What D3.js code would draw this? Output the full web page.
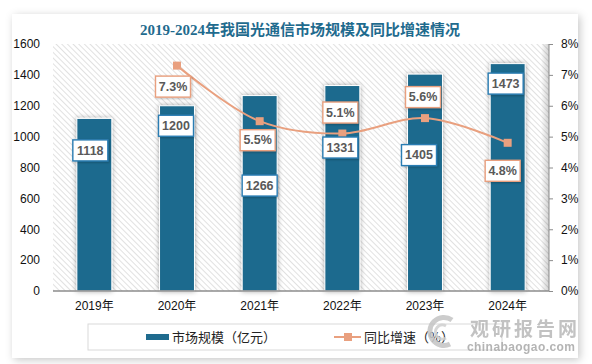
<!DOCTYPE html>
<html><head><meta charset="utf-8">
<script src="https://cdn.jsdelivr.net/npm/d3@7"></script>
<style>
html,body{margin:0;padding:0;background:#ffffff;}
svg{display:block;}
</style></head>
<body>
<svg id="chart" width="592" height="364"></svg>
<script>
// ---- data ----
const years = ["2019年","2020年","2021年","2022年","2023年","2024年"];
const marketSize = [1118, 1200, 1266, 1331, 1405, 1473];          // 亿元
const growthRate = [null, 7.3, 5.5, 5.1, 5.6, 4.8];                 // %
const leftTicks = [0, 200, 400, 600, 800, 1000, 1200, 1400, 1600];
const rightTicks = [0, 1, 2, 3, 4, 5, 6, 7, 8];
const titleText = "2019-2024年我国光通信市场规模及同比增速情况";
const legendBar = "市场规模（亿元）";
const legendLine = "同比增速（%）";

// ---- layout (label placement, px) ----
const barLabelDx = [-4, -1, 0, -2, -6, -2];
const barLabelDy = [32, 20, 90, 62, 81, 20];
const pctLabelDx = [0, -4, -2, -2, -2, -5];
const pctLabelDy = [0, 21, 19, -21, -21, 28];

const BLUE = "#1f6b8e", SALMON = "#e9a07f", LABEL_BLUE = "#2b7db3";
const svg = d3.select("#chart");
const defs = svg.append("defs");

const fs = defs.append("filter").attr("id","cardShadow").attr("x","-10%").attr("y","-10%").attr("width","120%").attr("height","120%");
fs.append("feDropShadow").attr("dx",2).attr("dy",2).attr("stdDeviation",4).attr("flood-color","#000").attr("flood-opacity",0.22);
const fb = defs.append("filter").attr("id","barShadow").attr("x","-50%").attr("y","-10%").attr("width","200%").attr("height","120%");
fb.append("feDropShadow").attr("dx",0).attr("dy",0).attr("stdDeviation",2.5).attr("flood-color","#000").attr("flood-opacity",0.35);
const fl = defs.append("filter").attr("id","lblShadow").attr("x","-20%").attr("y","-20%").attr("width","150%").attr("height","160%");
fl.append("feDropShadow").attr("dx",1).attr("dy",1).attr("stdDeviation",1).attr("flood-color","#000").attr("flood-opacity",0.25);

// hatch pattern (downward diagonal)
const pat = defs.append("pattern").attr("id","hatch").attr("patternUnits","userSpaceOnUse")
  .attr("width",4).attr("height",4).attr("patternTransform","rotate(-45)");
pat.append("rect").attr("width",4).attr("height",4).attr("fill","#ffffff");
pat.append("line").attr("x1",0).attr("y1",0).attr("x2",0).attr("y2",4).attr("stroke","#d4d4d4").attr("stroke-width",1.4);

const grad = defs.append("linearGradient").attr("id","edgeShade").attr("x1","0").attr("x2","1");
grad.append("stop").attr("offset","0").attr("stop-color","#000").attr("stop-opacity",0);
grad.append("stop").attr("offset","1").attr("stop-color","#000").attr("stop-opacity",0.18);

// card
svg.append("rect").attr("x",12).attr("y",14).attr("width",566).attr("height",344)
  .attr("fill","#fff").attr("filter","url(#cardShadow)");

// title
svg.append("text").attr("x",300).attr("y",35).attr("text-anchor","middle")
  .attr("font-family","'Liberation Serif','Noto Sans CJK SC',serif").attr("font-weight","bold")
  .attr("font-size",15).attr("fill","#1f6b8e").text(titleText);

const plot = {l:53, r:549, t:44, b:291};
const x = d3.scaleBand().domain(years).range([plot.l, plot.r]).paddingInner(0.577).paddingOuter(0.2885);
const yL = d3.scaleLinear().domain([0,1600]).range([plot.b, plot.t]);
const yR = d3.scaleLinear().domain([0,8]).range([plot.b, plot.t]);

// plot area
svg.append("rect").attr("x",plot.l).attr("y",plot.t).attr("width",plot.r-plot.l).attr("height",plot.b-plot.t)
  .attr("fill","url(#hatch)");
svg.append("rect").attr("x",plot.r-8).attr("y",plot.t).attr("width",8).attr("height",plot.b-plot.t)
  .attr("fill","url(#edgeShade)");

// bars
svg.append("g").selectAll("rect").data(marketSize).join("rect")
  .attr("x",(d,i)=>x(years[i])).attr("width",x.bandwidth())
  .attr("y",d=>yL(d)).attr("height",d=>yL(0)-yL(d))
  .attr("fill",BLUE).attr("stroke","#fff").attr("stroke-width",1)
  .attr("filter","url(#barShadow)");

// axes
const axL = svg.append("g").attr("transform",`translate(${plot.l-13},0)`)
  .call(d3.axisLeft(yL).tickValues(leftTicks).tickSize(0).tickPadding(0).tickFormat(d3.format("d")));
axL.select(".domain").remove();
axL.selectAll("text").attr("font-family","'Liberation Sans',Arial,sans-serif").attr("font-size",12).attr("fill","#111");

const axR = svg.append("g").attr("transform",`translate(${plot.r},0)`)
  .call(d3.axisRight(yR).tickValues(rightTicks).tickSize(4).tickPadding(8).tickFormat(d=>d+"%"));
axR.select(".domain").attr("stroke","#8c8c8c").attr("d",`M0,${plot.t}V${plot.b}`);
axR.selectAll("line").attr("stroke","#8c8c8c");
axR.selectAll("text").attr("font-family","'Liberation Sans',Arial,sans-serif").attr("font-size",12).attr("fill","#111");

const axB = svg.append("g").attr("transform",`translate(0,${plot.b})`)
  .call(d3.axisBottom(x).tickSize(0).tickPadding(10));
axB.select(".domain").attr("stroke","#8c8c8c").attr("stroke-width",1.3).attr("d",`M${plot.l},0H${plot.r}`);
axB.selectAll("text").attr("font-family","'Liberation Sans','Noto Sans CJK SC',sans-serif").attr("font-size",12).attr("fill","#111");

// line
const pts = growthRate.map((v,i)=>({v,i})).filter(d=>d.v!==null);
const line = d3.line().x(d=>x(years[d.i])+x.bandwidth()/2).y(d=>yR(d.v)).curve(d3.curveCatmullRom.alpha(0.5));
svg.append("path").datum(pts).attr("d",line).attr("fill","none").attr("stroke",SALMON).attr("stroke-width",2);
svg.append("g").selectAll("rect").data(pts).join("rect")
  .attr("x",d=>x(years[d.i])+x.bandwidth()/2-4).attr("y",d=>yR(d.v)-4)
  .attr("width",8).attr("height",8).attr("fill",SALMON);

// labels
function labelBox(g, cx, cy, txt, color){
  const w=35, h=21;
  g.append("rect").attr("x",cx-w/2).attr("y",cy-h/2).attr("width",w).attr("height",h)
    .attr("fill","#fff").attr("stroke",color).attr("stroke-width",1.4).attr("filter","url(#lblShadow)");
  g.append("text").attr("x",cx).attr("y",cy+4.3).attr("text-anchor","middle")
    .attr("font-family","'Liberation Sans',Arial,sans-serif").attr("font-weight","bold")
    .attr("font-size",12.5).attr("fill","#595959").text(txt);
}
const lg = svg.append("g");
marketSize.forEach((v,i)=>{
  labelBox(lg, x(years[i])+x.bandwidth()/2+barLabelDx[i], yL(v)+barLabelDy[i], String(v), LABEL_BLUE);
});
growthRate.forEach((v,i)=>{
  if(v===null) return;
  labelBox(lg, x(years[i])+x.bandwidth()/2+pctLabelDx[i], yR(v)+pctLabelDy[i], v.toFixed(1)+"%", SALMON);
});

// legend
const leg = svg.append("g");
leg.append("rect").attr("x",88).attr("y",324).attr("width",414).attr("height",26)
  .attr("fill","#fff").attr("stroke","#d9d9d9");
leg.append("rect").attr("x",146).attr("y",334).attr("width",23).attr("height",6).attr("fill",BLUE);
leg.append("text").attr("x",172).attr("y",342).attr("font-family","'Noto Sans CJK SC',sans-serif")
  .attr("font-size",13).attr("fill","#222").text(legendBar);
leg.append("line").attr("x1",334).attr("x2",361).attr("y1",337).attr("y2",337).attr("stroke",SALMON).attr("stroke-width",2);
leg.append("rect").attr("x",344).attr("y",333).attr("width",8).attr("height",8).attr("fill",SALMON);
leg.append("text").attr("x",364).attr("y",342).attr("font-family","'Noto Sans CJK SC',sans-serif")
  .attr("font-size",13).attr("fill","#222").text(legendLine);

// watermark
const wm = svg.append("g").attr("opacity",0.85);
wm.append("path").attr("d","M452,320 A14,14 0 1,0 450,344").attr("fill","none").attr("stroke","#c4c4c4").attr("stroke-width",5);
wm.append("path").attr("d","M446,326 A7,7 0 1,0 446,338").attr("fill","none").attr("stroke","#d0d0d0").attr("stroke-width",3);
wm.append("text").attr("x",470).attr("y",336).attr("font-family","'Noto Sans CJK SC',sans-serif").attr("font-weight","bold")
  .attr("font-size",19).attr("textLength",107).attr("fill","#b8b8b8").text("观研报告网");
wm.append("text").attr("x",467).attr("y",351).attr("font-family","'Liberation Sans',Arial,sans-serif").attr("font-weight","bold")
  .attr("font-size",12).attr("fill","#a8a8a8").attr("textLength",108).text("chinabaogao.com");
</script>
</body></html>
